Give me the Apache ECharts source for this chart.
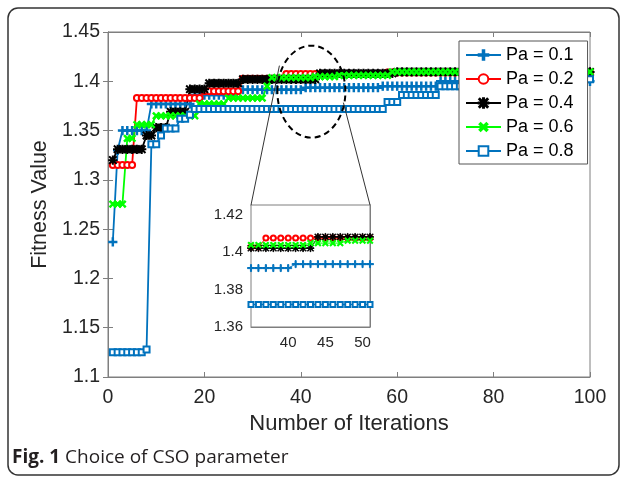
<!DOCTYPE html>
<html>
<head>
<meta charset="utf-8">
<script src="https://cdn.jsdelivr.net/npm/echarts@6/dist/echarts.min.js"></script>
<style>
html, body { margin: 0; padding: 0; background: #fff; }
#chart { width: 627px; height: 481px; }
</style>
</head>
<body>
<div id="chart"></div>
<script>
// values, one per iteration (1..100)
var seriesNames = ['Pa = 0.1', 'Pa = 0.2', 'Pa = 0.4', 'Pa = 0.6', 'Pa = 0.8'];

var pa01 = [
    1.237, 1.330, 1.350, 1.350, 1.350, 1.350, 1.350, 1.350, 1.377, 1.377,
    1.377, 1.377, 1.377, 1.377, 1.377, 1.377, 1.377, 1.386, 1.386, 1.386,
    1.386, 1.386, 1.386, 1.386, 1.386, 1.386, 1.3914, 1.3914, 1.3914, 1.3914,
    1.3914, 1.3914, 1.3914, 1.3914, 1.3914, 1.3914, 1.3914, 1.3914, 1.3914, 1.3914,
    1.3935, 1.3935, 1.3935, 1.3935, 1.3935, 1.3935, 1.3935, 1.3935, 1.3935, 1.3935,
    1.3935, 1.3935, 1.3935, 1.3935, 1.3935, 1.3935, 1.395, 1.395, 1.395, 1.395,
    1.395, 1.395, 1.395, 1.395, 1.395, 1.395, 1.395, 1.395, 1.400, 1.400,
    1.400, 1.400, 1.400, 1.400, 1.400, 1.400, 1.400, 1.400, 1.400, 1.400,
    1.400, 1.400, 1.400, 1.400, 1.400, 1.400, 1.400, 1.400, 1.400, 1.400,
    1.400, 1.400, 1.400, 1.400, 1.400, 1.400, 1.400, 1.400, 1.400, 1.400
];
var pa02 = [
    1.315, 1.315, 1.315, 1.315, 1.315, 1.383, 1.383, 1.383, 1.383, 1.383,
    1.383, 1.383, 1.383, 1.383, 1.383, 1.383, 1.383, 1.383, 1.383, 1.390,
    1.390, 1.390, 1.390, 1.390, 1.390, 1.390, 1.390, 1.4026, 1.4026, 1.4026,
    1.4026, 1.4026, 1.4026, 1.4026, 1.4026, 1.4026, 1.4074, 1.4074, 1.4074, 1.4074,
    1.4074, 1.4074, 1.4074, 1.4074, 1.4074, 1.4074, 1.4074, 1.4074, 1.4074, 1.4074,
    1.4074, 1.4074, 1.4074, 1.4074, 1.4074, 1.4074, 1.4074, 1.409, 1.409, 1.409,
    1.409, 1.409, 1.409, 1.409, 1.409, 1.409, 1.409, 1.409, 1.409, 1.409,
    1.409, 1.409, 1.409, 1.409, 1.409, 1.409, 1.409, 1.409, 1.409, 1.409,
    1.409, 1.409, 1.409, 1.409, 1.409, 1.409, 1.409, 1.409, 1.409, 1.409,
    1.409, 1.409, 1.409, 1.409, 1.409, 1.409, 1.409, 1.409, 1.409, 1.409
];
var pa04 = [
    1.320, 1.331, 1.331, 1.331, 1.331, 1.331, 1.331, 1.345, 1.345, 1.353,
    1.353, 1.353, 1.369, 1.369, 1.369, 1.369, 1.392, 1.392, 1.392, 1.392,
    1.398, 1.398, 1.398, 1.398, 1.398, 1.398, 1.398, 1.402, 1.402, 1.402,
    1.402, 1.402, 1.402, 1.402, 1.402, 1.402, 1.402, 1.402, 1.402, 1.402,
    1.402, 1.402, 1.402, 1.408, 1.408, 1.408, 1.408, 1.408, 1.408, 1.408,
    1.408, 1.408, 1.408, 1.408, 1.408, 1.408, 1.408, 1.408, 1.408, 1.4095,
    1.4095, 1.4095, 1.4095, 1.4095, 1.4095, 1.4095, 1.4095, 1.4095, 1.4095, 1.4095,
    1.4095, 1.4095, 1.4095, 1.4095, 1.4095, 1.4095, 1.4095, 1.4095, 1.4095, 1.4095,
    1.4095, 1.4095, 1.4095, 1.4095, 1.4095, 1.4095, 1.4095, 1.4095, 1.4095, 1.4095,
    1.4095, 1.4095, 1.4095, 1.4095, 1.4095, 1.4095, 1.4095, 1.4095, 1.4095, 1.4095
];
var pa06 = [
    1.2755, 1.2755, 1.2755, 1.342, 1.342, 1.356, 1.356, 1.356, 1.356, 1.365,
    1.365, 1.365, 1.365, 1.365, 1.365, 1.365, 1.365, 1.365, 1.377, 1.377,
    1.377, 1.377, 1.377, 1.377, 1.383, 1.383, 1.383, 1.383, 1.383, 1.383,
    1.383, 1.383, 1.395, 1.4037, 1.4037, 1.4037, 1.4037, 1.4037, 1.4037, 1.4037,
    1.4037, 1.4037, 1.4047, 1.4047, 1.4047, 1.4047, 1.4047, 1.406, 1.406, 1.406,
    1.406, 1.406, 1.406, 1.406, 1.406, 1.406, 1.406, 1.406, 1.4095, 1.4095,
    1.4095, 1.4095, 1.4095, 1.4095, 1.4095, 1.4095, 1.4095, 1.4095, 1.4095, 1.4095,
    1.4095, 1.4095, 1.4095, 1.4095, 1.4095, 1.4095, 1.4095, 1.4095, 1.4095, 1.4095,
    1.4095, 1.4095, 1.4095, 1.4095, 1.4095, 1.4095, 1.4095, 1.4095, 1.4095, 1.4095,
    1.4095, 1.4095, 1.4095, 1.4095, 1.4095, 1.4095, 1.4095, 1.4095, 1.4095, 1.4095
];
var pa08 = [
    1.125, 1.125, 1.125, 1.125, 1.125, 1.125, 1.125, 1.128, 1.336, 1.336,
    1.345, 1.352, 1.352, 1.352, 1.362, 1.362, 1.366, 1.372, 1.372, 1.372,
    1.372, 1.372, 1.372, 1.372, 1.372, 1.372, 1.372, 1.372, 1.372, 1.372,
    1.372, 1.372, 1.372, 1.372, 1.372, 1.372, 1.372, 1.372, 1.372, 1.372,
    1.372, 1.372, 1.372, 1.372, 1.372, 1.372, 1.372, 1.372, 1.372, 1.372,
    1.372, 1.372, 1.372, 1.372, 1.372, 1.372, 1.372, 1.379, 1.379, 1.379,
    1.386, 1.386, 1.386, 1.386, 1.386, 1.386, 1.386, 1.386, 1.395, 1.395,
    1.395, 1.395, 1.395, 1.395, 1.395, 1.395, 1.395, 1.395, 1.395, 1.395,
    1.395, 1.395, 1.395, 1.395, 1.395, 1.395, 1.395, 1.395, 1.395, 1.395,
    1.395, 1.395, 1.395, 1.395, 1.395, 1.395, 1.395, 1.402, 1.402, 1.402
];
var allValues = [pa01, pa02, pa04, pa06, pa08];

// axis ranges / ticks
var xRange = [0, 100], xStep = 20;
var yRange = [1.1, 1.45], yStep = 0.05;
var insetX = [35, 51], insetXStep = 5;
var insetY = [1.36, 1.425], insetYStep = 0.02;
var zoomCenter = [42.2, 1.3895];   // middle of the dashed ellipse, in data units

var iterations = [];
for (var i = 1; i <= pa01.length; i++) iterations.push(i);

var FONT = '"Liberation Sans", Arial, sans-serif';
var AXIS = '#7f7f7f';
var TEXT = '#262626';

var PLUS = 'path://M4.2,0H5.8V4.2H10V5.8H5.8V10H4.2V5.8H0V4.2H4.2Z';
var STAR = 'path://M4.5,0H5.5V10H4.5Z M0,4.5H10V5.5H0Z M1.2,0.5L9.5,8.8L8.8,9.5L0.5,1.2Z M8.8,0.5L9.5,1.2L1.2,9.5L0.5,8.8Z';

var looks = [
    { color: '#0072BD', symbol: PLUS, size: 8, rotate: 0 },
    { color: '#FF0000', symbol: 'emptyCircle', size: 6, rotate: 0 },
    { color: '#000000', symbol: STAR, size: 8, rotate: 0 },
    { color: '#00FF00', symbol: PLUS, size: 8, rotate: 45 },
    { color: '#0072BD', symbol: 'emptyRect', size: 6, rotate: 0 }
];

var grid = { left: 108, top: 32, width: 482, height: 345 };
var inset = { left: 251, top: 205, width: 119, height: 122 };

function pairs(vals) {
    return vals.map(function (v, k) { return [iterations[k], v]; });
}
function fmt(v) { return String(+v.toFixed(3)); }

function boxAxis(gridIndex, pos, range, step, showLabel, fontSize, extra) {
    var a = {
        type: 'value', gridIndex: gridIndex, position: pos,
        min: range[0], max: range[1], interval: step,
        axisLine: { show: true, lineStyle: { color: AXIS, width: 1 } },
        axisTick: { show: true, inside: true, length: 5, lineStyle: { color: AXIS } },
        splitLine: { show: false },
        axisLabel: { show: showLabel, color: TEXT, fontFamily: FONT, fontSize: fontSize, formatter: fmt }
    };
    for (var k in extra) a[k] = extra[k];
    return a;
}

var series = [];
allValues.forEach(function (vals, idx) {
    var lk = looks[idx];
    [0, 1].forEach(function (g) {
        series.push({
            name: seriesNames[idx], type: 'line',
            xAxisIndex: g * 2, yAxisIndex: g * 2,
            data: pairs(vals),
            symbol: lk.symbol, symbolSize: g ? lk.size - 1 : lk.size, symbolRotate: lk.rotate,
            symbolKeepAspect: true, showAllSymbol: true, clip: true,
            lineStyle: { color: lk.color, width: g ? 1 : 1.8 },
            itemStyle: { color: lk.color, borderColor: lk.color, borderWidth: g ? 1 : 1.2 },
            emphasis: { disabled: true },
            animation: false
        });
    });
});

var myChart = echarts.init(document.getElementById('chart'));
myChart.setOption({
    backgroundColor: '#fff',
    animation: false,
    grid: [
        { left: grid.left, top: grid.top, width: grid.width, height: grid.height, show: true, borderColor: AXIS, borderWidth: 1, backgroundColor: '#fff' },
        { left: inset.left, top: inset.top, width: inset.width, height: inset.height, show: true, borderColor: AXIS, borderWidth: 1, backgroundColor: '#fff', z: 3 }
    ],
    xAxis: [
        boxAxis(0, 'bottom', xRange, xStep, true, 19.5, {
            name: 'Number of Iterations', nameLocation: 'middle', nameGap: 36,
            nameTextStyle: { fontFamily: FONT, fontSize: 22, color: TEXT },
            axisLabel: { color: TEXT, fontFamily: FONT, fontSize: 19.5, margin: 11 }
        }),
        boxAxis(0, 'top', xRange, xStep, false, 19, {}),
        boxAxis(1, 'bottom', insetX, insetXStep, true, 15, {
            axisLabel: { color: TEXT, fontFamily: FONT, fontSize: 15, margin: 8, showMinLabel: false, showMaxLabel: false },
            axisTick: { show: true, inside: true, length: 3, lineStyle: { color: AXIS } }
        }),
        boxAxis(1, 'top', insetX, insetXStep, false, 15, {
            axisTick: { show: true, inside: true, length: 3, lineStyle: { color: AXIS } }
        })
    ],
    yAxis: [
        boxAxis(0, 'left', yRange, yStep, true, 19.5, {
            name: 'Fitness Value', nameLocation: 'middle', nameGap: 55, nameRotate: 90,
            nameTextStyle: { fontFamily: FONT, fontSize: 21.5, color: TEXT },
            axisLabel: { color: TEXT, fontFamily: FONT, fontSize: 19.5, margin: 8, formatter: fmt }
        }),
        boxAxis(0, 'right', yRange, yStep, false, 19, {}),
        boxAxis(1, 'left', insetY, insetYStep, true, 15, {
            axisLabel: { color: TEXT, fontFamily: FONT, fontSize: 15, margin: 8, showMaxLabel: false, formatter: fmt },
            axisTick: { show: true, inside: true, length: 3, lineStyle: { color: AXIS } }
        }),
        boxAxis(1, 'right', insetY, insetYStep, false, 15, {
            axisTick: { show: true, inside: true, length: 3, lineStyle: { color: AXIS } }
        })
    ],
    legend: {
        data: seriesNames, orient: 'vertical', left: 459, top: 41,
        padding: [5, 14, 4, 6], itemGap: 6, itemWidth: 35, itemHeight: 12,
        backgroundColor: '#fff', borderColor: '#555', borderWidth: 1,
        textStyle: { fontFamily: FONT, fontSize: 18, color: '#000', lineHeight: 18 },
        selectedMode: false
    },
    series: series
});

// zoom ellipse, connectors, figure frame and caption
var c = myChart.convertToPixel({ gridIndex: 0 }, zoomCenter);
var rx = 34, ry = 46;
myChart.setOption({
    graphic: [
        { type: 'rect', silent: true, z: 0, shape: { x: 8, y: 8, width: 611, height: 467, r: 10 },
          style: { fill: 'none', stroke: '#333', lineWidth: 1.5 } },
        { type: 'text', x: 12, y: 458, silent: true,
          style: { text: '{b|Fig. 1} Choice of CSO parameter', fill: '#231f20',
                   font: '19px "Open Sans", "Noto Sans", sans-serif', verticalAlign: 'middle',
                   rich: { b: { fontWeight: 'bold', fontSize: 19, fontFamily: '"Open Sans", "Noto Sans", sans-serif' } } } },
        { type: 'ellipse', silent: true, z: 10, shape: { cx: c[0], cy: c[1], rx: rx, ry: ry },
          style: { fill: 'none', stroke: '#000', lineWidth: 2, lineDash: [6, 4] } },
        { type: 'line', silent: true, z: 10,
          shape: { x1: c[0] - rx + 2, y1: c[1] - 26, x2: inset.left, y2: inset.top },
          style: { stroke: '#333', lineWidth: 1 } },
        { type: 'line', silent: true, z: 10,
          shape: { x1: c[0] + rx - 2, y1: c[1] + 11, x2: inset.left + inset.width, y2: inset.top },
          style: { stroke: '#333', lineWidth: 1 } }
    ]
});
</script>
</body>
</html>
